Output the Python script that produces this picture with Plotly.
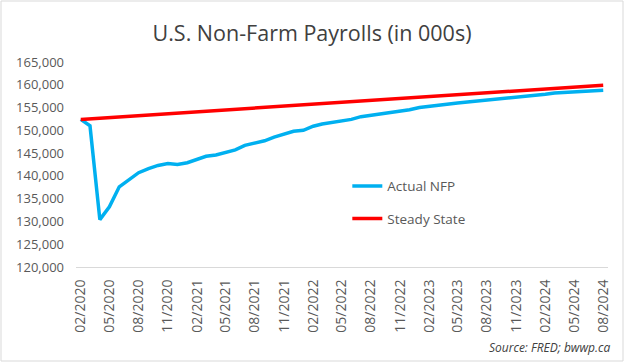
import plotly.graph_objects as go

months = [
    "2020-02", "2020-03", "2020-04", "2020-05", "2020-06", "2020-07", "2020-08", "2020-09",
    "2020-10", "2020-11", "2020-12", "2021-01", "2021-02", "2021-03", "2021-04", "2021-05",
    "2021-06", "2021-07", "2021-08", "2021-09", "2021-10", "2021-11", "2021-12", "2022-01",
    "2022-02", "2022-03", "2022-04", "2022-05", "2022-06", "2022-07", "2022-08", "2022-09",
    "2022-10", "2022-11", "2022-12", "2023-01", "2023-02", "2023-03", "2023-04", "2023-05",
    "2023-06", "2023-07", "2023-08", "2023-09", "2023-10", "2023-11", "2023-12", "2024-01",
    "2024-02", "2024-03", "2024-04", "2024-05", "2024-06", "2024-07", "2024-08",
]
actual_nfp = [
    152400, 151000, 130400, 133200, 137600, 139100, 140700, 141600,
    142300, 142700, 142500, 142900, 143600, 144300, 144600, 145100,
    145700, 146700, 147200, 147700, 148500, 149200, 149800, 150000,
    150900, 151400, 151700, 152000, 152400, 153000, 153300, 153600,
    154000, 154300, 154500, 155000, 155300, 155400, 155700, 156000,
    156200, 156400, 156600, 156800, 157000, 157200, 157500, 157700,
    157900, 158200, 158300, 158500, 158600, 158700, 158800,
]
steady_months = ["2020-02", "2024-08"]
steady_state = [152400, 159900]

fig = go.Figure()
fig.add_trace(go.Scatter(
    x=months, y=actual_nfp, mode="lines", name="Actual NFP",
    line=dict(color="#00B0F0", width=3.5), legendgroup="a",
))
fig.add_trace(go.Scatter(
    x=steady_months, y=steady_state, mode="lines", name="Steady State",
    line=dict(color="#FF0000", width=3.5), legendgroup="b",
))

fig.update_layout(
    width=624, height=362,
    margin=dict(l=76, r=16, t=62, b=95),
    paper_bgcolor="white", plot_bgcolor="white",
    font=dict(family="Open Sans, Liberation Sans, sans-serif", color="#595959", size=13),
    title=dict(text="U.S. Non-Farm Payrolls (in 000s)", x=0.5, xanchor="center",
               y=1 - 33 / 362, yanchor="middle",
               font=dict(size=21.5, color="#404040")),
    showlegend=True,
    legend=dict(x=0.51, y=0.47, xanchor="left", yanchor="top",
                bgcolor="rgba(0,0,0,0)", tracegroupgap=12,
                font=dict(size=13.5, color="#595959")),
    xaxis=dict(
        type="date",
        range=["2020-01-17", "2024-08-16"],
        tick0="2020-02-01", dtick="M3", tickformat="%m/%Y",
        tickangle=-90, showgrid=False, zeroline=False,
        showline=True, linecolor="#D9D9D9", linewidth=1,
        ticks="", ticklabelstandoff=6,
        tickfont=dict(size=14, color="#595959"),
    ),
    yaxis=dict(
        range=[120000, 165000], dtick=5000, tickformat=",",
        showgrid=False, zeroline=False, showline=False,
        ticks="", ticklabelstandoff=11,
        tickfont=dict(size=13, color="#595959"),
    ),
    annotations=[dict(
        text="<i>Source: FRED; bwwp.ca</i>", xref="paper", yref="paper",
        x=(612 - 76) / 532, y=(267 - 347) / 205, xanchor="right", yanchor="middle",
        showarrow=False, font=dict(size=12, color="#404040"),
    )],
    shapes=[dict(type="rect", xref="paper", yref="paper",
                 x0=-75 / 532, x1=(623 - 76) / 532,
                 y0=(267 - 361) / 205, y1=(267 - 1) / 205,
                 line=dict(color="#D9D9D9", width=1))],
)

fig.write_html("out.html", config={"displayModeBar": False},
               post_script="document.body.style.margin='0';")
